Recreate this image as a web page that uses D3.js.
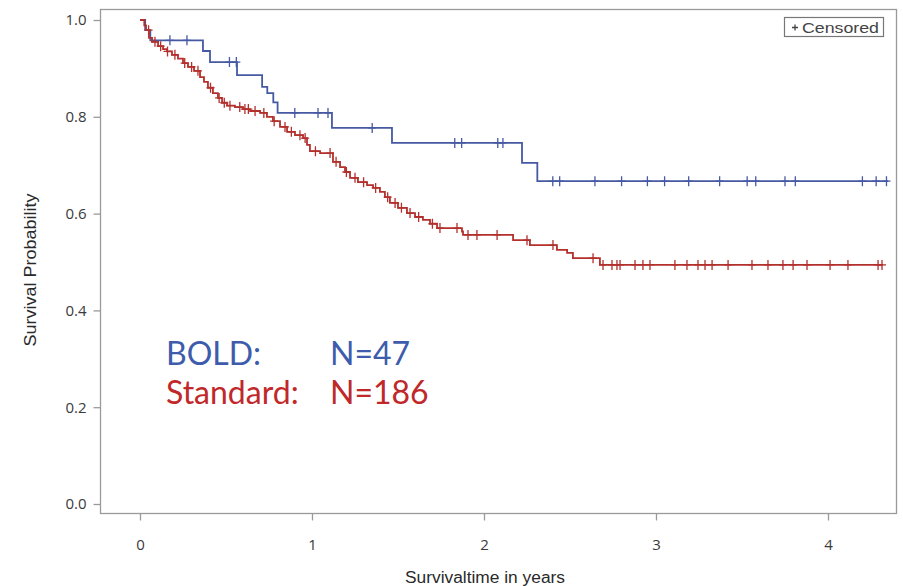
<!DOCTYPE html>
<html>
<head>
<meta charset="utf-8">
<script src="https://cdn.jsdelivr.net/npm/d3@7"></script>
<style>
  html, body { margin: 0; padding: 0; background: #fff; }
  svg { display: block; }
</style>
</head>
<body>
<svg id="chart" width="903" height="586"></svg>
<script>
// ---------- data ----------
const xTicks = [0, 1, 2, 3, 4];
const yTicks = [0.0, 0.2, 0.4, 0.6, 0.8, 1.0];

// BOLD group: step drops [time (years), survival after drop]
const boldSteps = [
  [0.00, 1.000], [0.03, 0.979], [0.06, 0.958], [0.366, 0.936], [0.407, 0.913],
  [0.564, 0.886], [0.71, 0.862], [0.74, 0.849], [0.775, 0.830], [0.80, 0.808],
  [1.116, 0.777], [1.465, 0.746], [2.221, 0.705], [2.31, 0.667]
];
const boldEnd = 4.35;
const boldCensored = [0.174, 0.273, 0.52, 0.56, 0.90, 1.035, 1.093, 1.35, 1.83, 1.87,
  2.08, 2.11, 2.40, 2.44, 2.645, 2.80, 2.95, 3.05, 3.19, 3.37, 3.53, 3.58, 3.75, 3.81,
  4.20, 4.28, 4.34];

// Standard group
const stdSteps = [
  [0.000, 1.000], [0.025, 0.989], [0.035, 0.979], [0.052, 0.963], [0.070, 0.955],
  [0.105, 0.946], [0.134, 0.940], [0.157, 0.935], [0.186, 0.928], [0.221, 0.920],
  [0.250, 0.911], [0.279, 0.903], [0.314, 0.895], [0.349, 0.882], [0.372, 0.872],
  [0.395, 0.860], [0.424, 0.849], [0.453, 0.839], [0.477, 0.829], [0.506, 0.823],
  [0.552, 0.820], [0.599, 0.816], [0.640, 0.812], [0.698, 0.808], [0.738, 0.800],
  [0.773, 0.791], [0.814, 0.779], [0.855, 0.769], [0.901, 0.762], [0.948, 0.756],
  [0.971, 0.742], [0.988, 0.729], [1.047, 0.725], [1.122, 0.707], [1.163, 0.696],
  [1.192, 0.686], [1.221, 0.674], [1.267, 0.665], [1.320, 0.659], [1.355, 0.653],
  [1.395, 0.645], [1.424, 0.634], [1.453, 0.622], [1.500, 0.612], [1.552, 0.601],
  [1.599, 0.593], [1.645, 0.587], [1.686, 0.579], [1.727, 0.570], [1.872, 0.563],
  [1.878, 0.556], [2.169, 0.545], [2.267, 0.535], [2.424, 0.525], [2.483, 0.519],
  [2.517, 0.508], [2.674, 0.494]
];
const stdEnd = 4.32;
const stdCensored = [0.05, 0.087, 0.12, 0.16, 0.203, 0.26, 0.30, 0.337, 0.41, 0.46, 0.49,
  0.523, 0.58, 0.610, 0.63, 0.669, 0.72, 0.78, 0.843, 0.88, 0.930, 0.96, 1.02, 1.105,
  1.14, 1.20, 1.250, 1.30, 1.37, 1.44, 1.483, 1.52, 1.570, 1.62, 1.70,
  1.744, 1.843, 1.907, 1.959, 2.076, 2.250, 2.401, 2.634, 2.692, 2.744,
  2.773, 2.791, 2.878, 2.924, 2.965, 3.110, 3.180, 3.244, 3.285, 3.326, 3.419, 3.558,
  3.651, 3.738, 3.797, 3.878, 4.012, 4.116, 4.291, 4.314];

const groupLabels = ["BOLD:", "Standard:"];
const groupN = ["N=47", "N=186"];
const colors = ["#4659a3", "#b3302d"];
const textColors = ["#3d5cab", "#c0282a"];

// ---------- layout ----------
const svg = d3.select("#chart");
const frame = { left: 100, right: 896, top: 9, bottom: 513 };

const x = d3.scaleLinear()
  .domain([(frame.left - 140) / 172, (frame.right - 140) / 172])
  .range([frame.left, frame.right]);
const y = d3.scaleLinear()
  .domain([(504 - frame.bottom) / 484, (504 - frame.top) / 484])
  .range([frame.bottom, frame.top]);

// frame
svg.append("rect")
  .attr("x", frame.left + 0.5).attr("y", frame.top + 0.5)
  .attr("width", frame.right - frame.left).attr("height", frame.bottom - frame.top)
  .attr("fill", "none").attr("stroke", "#9a9a9a").attr("stroke-width", 1.3);

// axes
const xAxis = d3.axisBottom(x).tickValues(xTicks).tickFormat(d3.format("d"))
  .tickSize(7).tickPadding(19);
const gx = svg.append("g").attr("transform", `translate(0,${frame.bottom + 0.5})`).call(xAxis);
const yAxis = d3.axisLeft(y).tickValues(yTicks).tickFormat(d3.format(".1f"))
  .tickSize(7).tickPadding(7);
const gy = svg.append("g").attr("transform", `translate(${frame.left + 0.5},0)`).call(yAxis);
[gx, gy].forEach(g => {
  g.attr("font-size", null);
  g.select(".domain").remove();
  g.selectAll(".tick line").attr("stroke", "#9a9a9a").attr("stroke-width", 1.3);
  g.selectAll(".tick text").attr("fill", "#3a3a3a").style("font-family", "'Open Sans', sans-serif")
    .style("font-size", "15px");
});

// axis titles
const titleFont = "'Liberation Sans Narrow', 'Arial Narrow', sans-serif";
svg.append("text")
  .attr("x", 485).attr("y", 583)
  .attr("text-anchor", "middle").attr("fill", "#2a2a2a")
  .style("font-family", titleFont).style("font-size", "16px")
  .attr("textLength", 160).attr("lengthAdjust", "spacingAndGlyphs")
  .text("Survivaltime in years");
svg.append("text")
  .attr("transform", `translate(36,270) rotate(-90)`)
  .attr("text-anchor", "middle").attr("fill", "#2a2a2a")
  .style("font-family", titleFont).style("font-size", "16px")
  .attr("textLength", 153).attr("lengthAdjust", "spacingAndGlyphs")
  .text("Survival Probability");

// step curves
function stepPath(steps, end) {
  const pts = steps.map(d => [d[0], d[1]]);
  pts.push([end, steps[steps.length - 1][1]]);
  return d3.line().x(d => x(d[0])).y(d => y(d[1])).curve(d3.curveStepAfter)(pts);
}
function survAt(steps, t) {
  let s = steps[0][1];
  for (const d of steps) { if (d[0] <= t) s = d[1]; }
  return s;
}
const groups = [
  { steps: boldSteps, end: boldEnd, cens: boldCensored, color: colors[0] },
  { steps: stdSteps, end: stdEnd, cens: stdCensored, color: colors[1] }
];
const plus = "M-4,0H4M0,-5V5";
groups.forEach(g => {
  svg.append("path").attr("d", stepPath(g.steps, g.end))
    .attr("fill", "none").attr("stroke", g.color).attr("stroke-width", 1.8);
  svg.append("g").selectAll("path").data(g.cens).join("path")
    .attr("transform", d => `translate(${x(d)},${y(survAt(g.steps, d))})`)
    .attr("d", plus).attr("stroke", g.color).attr("stroke-width", 1.3).attr("fill", "none");
});

// annotation
groupLabels.forEach((lab, i) => {
  const by = i === 0 ? 365 : 404;
  svg.append("text").attr("x", 166).attr("y", by).attr("fill", textColors[i])
    .style("font-family", "Lato, 'Open Sans', sans-serif").style("font-size", "32px")
    .text(lab);
  svg.append("text").attr("x", 330).attr("y", by).attr("fill", textColors[i])
    .style("font-family", "Lato, 'Open Sans', sans-serif").style("font-size", "32px")
    .text(groupN[i]);
});

// legend
const lg = svg.append("g");
lg.append("rect").attr("x", 784.5).attr("y", 17.5).attr("width", 99).attr("height", 19)
  .attr("fill", "#fff").attr("stroke", "#777").attr("stroke-width", 1.2);
lg.append("path").attr("transform", "translate(795,27.5)").attr("d", "M-3,0H3M0,-3V3")
  .attr("stroke", "#444").attr("stroke-width", 1.3);
lg.append("text").attr("x", 802).attr("y", 32.5).attr("fill", "#444")
  .style("font-family", "'Liberation Sans', sans-serif")
  .style("font-size", "14px")
  .attr("textLength", 77).attr("lengthAdjust", "spacingAndGlyphs")
  .text("Censored");
</script>
</body>
</html>
